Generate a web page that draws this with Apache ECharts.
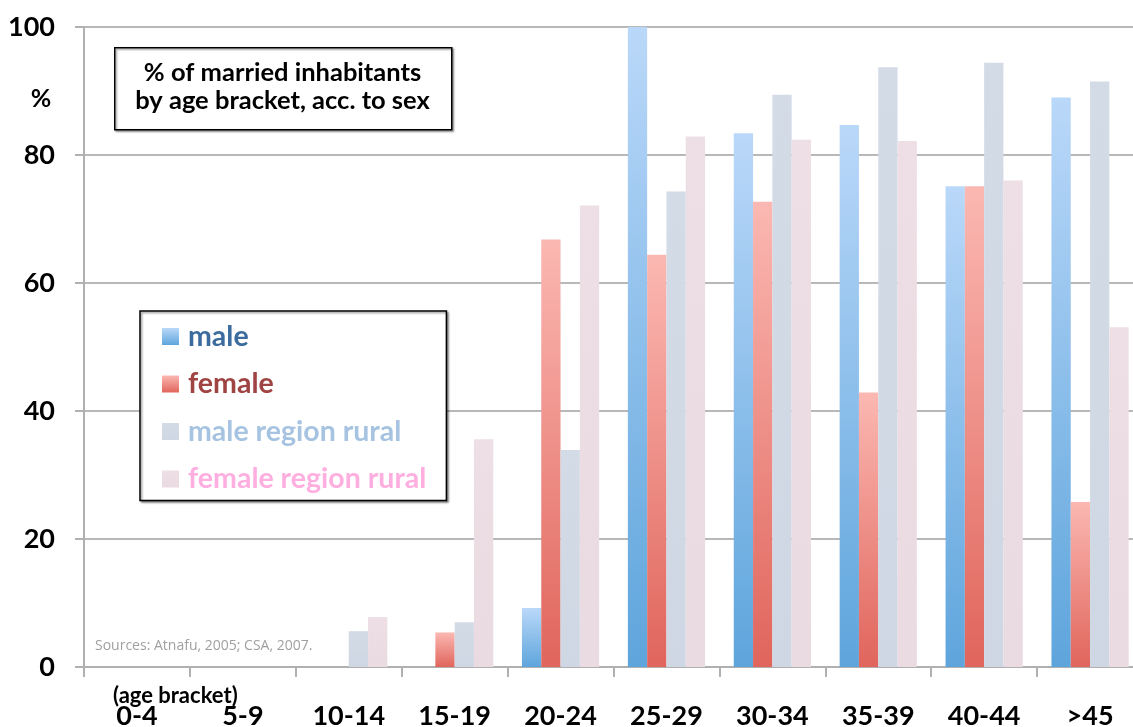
<!DOCTYPE html>
<html>
<head>
<meta charset="utf-8">
<script src="https://cdn.jsdelivr.net/npm/echarts@6/dist/echarts.min.js"></script>
<style>
html,body{margin:0;padding:0;background:#fff;}
#chart{width:1133px;height:727px;}
</style>
</head>
<body>
<div id="chart"></div>
<script>
// ---- data ----
const categories = ['0-4','5-9','10-14','15-19','20-24','25-29','30-34','35-39','40-44','>45'];
const male        = [null, null, null, null, 9.2, 100, 83.4, 84.7, 75.1, 89.0];
const female      = [null, null, null, 5.4, 66.8, 64.4, 72.7, 42.9, 75.1, 25.8];
const maleRural   = [null, null, 5.6, 7.0, 33.9, 74.3, 89.4, 93.7, 94.4, 91.5];
const femaleRural = [null, null, 7.8, 35.6, 72.1, 82.9, 82.4, 82.2, 76.0, 53.1];
const seriesNames = ['male', 'female', 'male region rural', 'female region rural'];
const yTicks = { min: 0, max: 100, interval: 20 };
const titleText = '% of married inhabitants\nby age bracket, acc. to sex';
const sourceText = 'Sources: Atnafu, 2005; CSA, 2007.';

// ---- styles ----
const FONT = 'Lato';
function grad(top, bottom) {
  return new echarts.graphic.LinearGradient(0, 0, 0, 1, [
    { offset: 0, color: top }, { offset: 1, color: bottom }
  ]);
}
const colors = [
  grad('#bad8f9', '#5ea5dc'),
  grad('#fbb8b2', '#e0655c'),
  grad('#d3dbe6', '#ced7e3'),
  grad('#eddfe5', '#eadae1')
];
const legendTextColors = ['#3b6c9d', '#a04343', '#a6c3e1', '#ffaee0'];
const seriesData = [male, female, maleRural, femaleRural];

const chart = echarts.init(document.getElementById('chart'));
chart.setOption({
  animation: false,
  backgroundColor: '#fff',
  grid: { left: 84, top: 27, right: -10, bottom: 60, containLabel: false, outerBoundsMode: 'none' },
  xAxis: {
    type: 'category',
    data: categories,
    boundaryGap: true,
    axisLine: { lineStyle: { color: '#b0b0b0', width: 2 } },
    axisTick: { show: true, length: 10, lineStyle: { color: '#b0b0b0', width: 2 } },
    axisLabel: { margin: 36, fontFamily: FONT, fontWeight: 'bold', fontSize: 27, color: '#000' }
  },
  yAxis: {
    type: 'value',
    min: yTicks.min, max: yTicks.max, interval: yTicks.interval,
    axisLine: { show: true, lineStyle: { color: '#b0b0b0', width: 2 } },
    axisTick: { show: true, length: 9, lineStyle: { color: '#b0b0b0', width: 2 } },
    splitLine: { lineStyle: { color: '#a0a0a0', width: 1.5 } },
    axisLabel: { margin: 29, fontFamily: FONT, fontWeight: 'bold', fontSize: 27, color: '#000' }
  },
  legend: {
    orient: 'vertical',
    left: 140, top: 311,
    padding: [11, 20, 7, 22],
    itemWidth: 17, itemHeight: 17,
    itemGap: 18.5,
    icon: 'rect',
    backgroundColor: '#fff',
    borderColor: '#000', borderWidth: 1.5,
    shadowColor: 'rgba(0,0,0,0.45)', shadowBlur: 2, shadowOffsetX: 1.5, shadowOffsetY: 1.5,
    textStyle: { fontFamily: FONT, fontWeight: 'bold', fontSize: 28.5, lineHeight: 28, padding: [0, 0, 0, 4] },
    data: seriesNames.map((n, i) => ({ name: n, textStyle: { color: legendTextColors[i] } }))
  },
  graphic: [
    {
      type: 'rect', left: 114, top: 47, z: 100,
      shape: { width: 337, height: 82 },
      style: { fill: '#fff', stroke: '#000', lineWidth: 1.5, shadowColor: 'rgba(0,0,0,0.4)', shadowBlur: 2, shadowOffsetX: 1.5, shadowOffsetY: 1.5 }
    },
    {
      type: 'text', x: 282.5, y: 87, z: 101,
      style: { text: titleText, fill: '#000', font: 'bold 25.5px Lato', align: 'center', verticalAlign: 'middle', lineHeight: 28 }
    },
    {
      type: 'text', x: 41, y: 99, z: 101,
      style: { text: '%', fill: '#000', font: 'bold 25px Lato', align: 'center', verticalAlign: 'middle' }
    },
    {
      type: 'text', x: 113, y: 696, z: 101,
      style: { text: '(age bracket)', fill: '#000', font: 'bold 22px Lato', align: 'left', verticalAlign: 'middle' }
    },
    {
      type: 'text', x: 95, y: 646, z: 101,
      style: { text: sourceText, fill: '#a0a0a0', font: '14px "Open Sans"', align: 'left', verticalAlign: 'middle' }
    }
  ],
  series: seriesNames.map((n, i) => ({
    name: n,
    type: 'bar',
    data: seriesData[i],
    barWidth: 19.3,
    barGap: '0%',
    itemStyle: { color: colors[i] }
  }))
});
</script>
</body>
</html>
